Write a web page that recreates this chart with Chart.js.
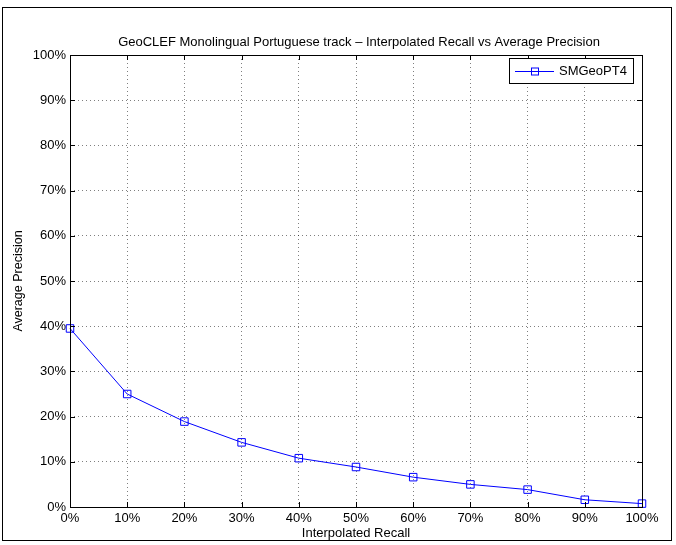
<!DOCTYPE html>
<html><head><meta charset="utf-8">
<script src="https://cdn.jsdelivr.net/npm/chart.js@4/dist/chart.umd.min.js"></script>
<style>html,body{margin:0;padding:0;background:#fff;} canvas{display:block;}</style>
</head><body>
<canvas id="c" width="676" height="545"></canvas>
<script>
const recall = [0, 10, 20, 30, 40, 50, 60, 70, 80, 90, 100];
const precision = [39.5, 25.0, 18.9, 14.3, 10.8, 8.85, 6.6, 5.0, 3.85, 1.6, 0.75];
const tickValues = [0, 10, 20, 30, 40, 50, 60, 70, 80, 90, 100];
const seriesName = 'SMGeoPT4';
const chartTitle = 'GeoCLEF Monolingual Portuguese track \u2013 Interpolated Recall vs Average Precision';
const xTitle = 'Interpolated Recall';
const yTitle = 'Average Precision';

const FONT = 'Liberation Sans, Arial, Helvetica, sans-serif';
const BLUE = '#0000ff';

const framePlugin = {
  id: 'frame',
  afterDraw(chart) {
    const ctx = chart.ctx;
    const a = chart.chartArea;
    const xs = chart.scales.x, ys = chart.scales.y;
    ctx.save();
    // outer figure frame
    ctx.strokeStyle = '#000';
    ctx.lineWidth = 1;
    ctx.strokeRect(2.5, 7.5, 669, 533);
    // axes box
    ctx.strokeRect(Math.round(a.left) + 0.5, Math.round(a.top) + 0.5, Math.round(a.right - a.left), Math.round(a.bottom - a.top));
    // inside ticks
    const tl = 5;
    ctx.beginPath();
    xs.ticks.forEach(t => {
      const px = Math.round(xs.getPixelForValue(t.value)) + 0.5;
      ctx.moveTo(px, a.bottom); ctx.lineTo(px, a.bottom - tl);
      ctx.moveTo(px, a.top); ctx.lineTo(px, a.top + tl);
    });
    ys.ticks.forEach(t => {
      const py = Math.round(ys.getPixelForValue(t.value)) + 0.5;
      ctx.moveTo(a.left, py); ctx.lineTo(a.left + tl, py);
      ctx.moveTo(a.right, py); ctx.lineTo(a.right - tl, py);
    });
    ctx.stroke();
    // title
    ctx.fillStyle = '#000';
    ctx.font = '13px ' + FONT;
    ctx.textAlign = 'center';
    ctx.textBaseline = 'middle';
    ctx.fillText(chartTitle, (a.left + a.right) / 2 + 3, 42);
    // legend
    const ds = chart.data.datasets[0];
    const lx = 509.5, ly = 58.5, lw = 124, lh = 25;
    ctx.fillStyle = '#fff';
    ctx.fillRect(lx, ly, lw, lh);
    ctx.strokeStyle = '#000';
    ctx.strokeRect(lx, ly, lw, lh);
    const cy = Math.round(ly + lh / 2) + 0.5;
    ctx.strokeStyle = BLUE;
    ctx.beginPath();
    ctx.moveTo(515, cy); ctx.lineTo(554, cy);
    ctx.stroke();
    ctx.strokeRect(531.5, cy - 3.5, 7, 7);
    ctx.fillStyle = '#000';
    ctx.textAlign = 'left';
    ctx.font = '13px ' + FONT;
    ctx.fillText(ds.label, 559, cy);
    ctx.restore();
  }
};

new Chart(document.getElementById('c'), {
  type: 'line',
  data: {
    datasets: [{
      label: seriesName,
      data: recall.map((r, i) => ({ x: r, y: precision[i] })),
      borderColor: BLUE,
      borderWidth: 1,
      pointStyle: 'rect',
      pointRadius: 5.3,
      pointBorderColor: BLUE,
      pointBackgroundColor: 'rgba(0,0,0,0)',
      pointBorderWidth: 1,
      tension: 0,
      clip: false
    }]
  },
  options: {
    responsive: false,
    animation: false,
    devicePixelRatio: 1,
    layout: { padding: { top: 55, right: 34, left: 0, bottom: 0 } },
    plugins: { legend: { display: false }, title: { display: false }, tooltip: { enabled: false } },
    scales: {
      x: {
        type: 'linear', min: 0, max: 100,
        afterBuildTicks: s => { s.ticks = tickValues.map(v => ({ value: v })); },
        afterFit: s => { s.height = 38; },
        ticks: { callback: v => v + '%', font: { family: FONT, size: 13 }, color: '#000', padding: 4, maxRotation: 0, autoSkip: false },
        grid: { color: 'rgba(0,0,0,0.5)', drawTicks: false, lineWidth: 1 },
        border: { display: false, dash: [1, 3] },
        title: { display: true, text: xTitle, font: { family: FONT, size: 13 }, color: '#000', padding: { top: 0, bottom: 4 } }
      },
      y: {
        type: 'linear', min: 0, max: 100,
        afterBuildTicks: s => { s.ticks = tickValues.map(v => ({ value: v })); },
        afterFit: s => { s.width = 70; },
        ticks: { callback: v => v + '%', font: { family: FONT, size: 13 }, color: '#000', padding: 4 },
        grid: { color: 'rgba(0,0,0,0.5)', drawTicks: false, lineWidth: 1 },
        border: { display: false, dash: [1, 3] },
        title: { display: true, text: yTitle, font: { family: FONT, size: 12.5 }, color: '#000', padding: { top: 11, bottom: 0 } }
      }
    }
  },
  plugins: [framePlugin]
});
</script>
</body></html>
